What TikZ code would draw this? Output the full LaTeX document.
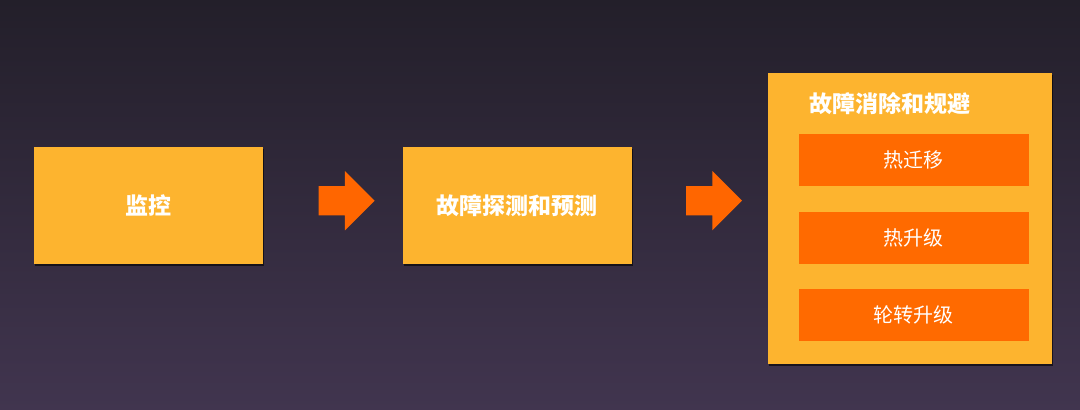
\documentclass[tikz,border=0pt]{standalone}
\usepackage{fontspec}
\setmainfont{Noto Sans CJK SC}
\usetikzlibrary{positioning,shapes.arrows,shadows}

\definecolor{bgtop}{HTML}{231F2A}
\definecolor{bgbottom}{HTML}{41354F}
\definecolor{boxfill}{HTML}{FDB42F}
\definecolor{innerfill}{HTML}{FF6A00}
\definecolor{arrowfill}{HTML}{FF6600}

\begin{document}
\begin{tikzpicture}[x=1pt,y=-1pt,
    box/.style={rectangle,fill=boxfill,inner sep=0pt,
      drop shadow={shadow xshift=1pt,shadow yshift=-1.5pt,opacity=0.6,fill=black},
      text=white,font=\fontsize{23}{27}\selectfont\bfseries},
    stage/.style={box,minimum width=229pt,minimum height=117pt},
    subtask/.style={rectangle,fill=innerfill,inner sep=0pt,
      minimum width=230pt,minimum height=52pt,
      text=white,font=\fontsize{20}{24}\selectfont},
    blockarrow/.style={single arrow,fill=arrowfill,inner xsep=0pt,inner ysep=14.5pt,
      minimum height=56pt,single arrow head extend=15pt}
    ]

\useasboundingbox (0,0) rectangle (1080,410);
\shade[top color=bgtop,bottom color=bgbottom] (0,0) rectangle (1080,410);

\node (monitor) [stage,anchor=north west] at (34,147) {监控};
\node (arr1) [blockarrow,right=55pt of monitor,yshift=5pt] {};
\node (detect) [stage,right=139pt of monitor] {故障探测和预测};
\node (arr2) [blockarrow,right=54pt of detect,yshift=5pt] {};
\node (remove) [box,minimum width=284pt,minimum height=291pt,
  right=136pt of detect,yshift=-13pt] {};

\node (title) [text=white,font=\fontsize{23}{27}\selectfont\bfseries,
  inner sep=0pt,anchor=west] at ([xshift=41pt,yshift=-31pt]remove.north west) {故障消除和规避};

\node (migrate) [subtask,below=61pt of remove.north,xshift=3.5pt] {热迁移};
\node (upgrade) [subtask,below=25pt of migrate] {热升级};
\node (rolling) [subtask,below=25pt of upgrade] {轮转升级};
\end{tikzpicture}
\end{document}
